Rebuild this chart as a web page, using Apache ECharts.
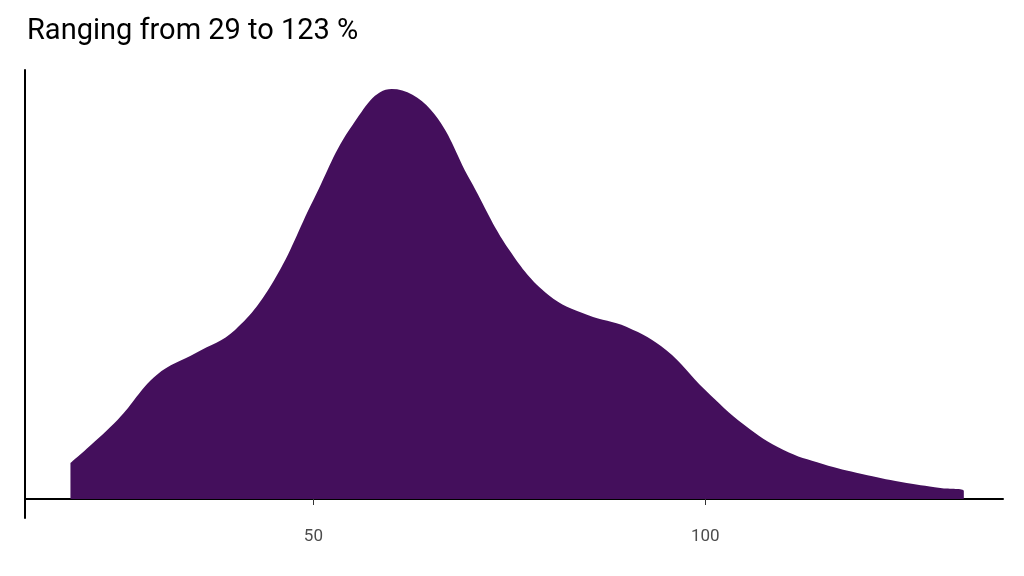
<!DOCTYPE html>
<html><head><meta charset="utf-8">
<script src="https://cdn.jsdelivr.net/npm/echarts@6/dist/echarts.min.js"></script>
<style>html,body{margin:0;background:#fff}#c{width:1024px;height:576px}</style>
</head><body><div id="c"></div>
<script>
// density curve, x in %, y in relative density units
var xs = [19, 25, 30, 35, 40, 45, 50, 55, 60, 65, 70, 75, 80, 85, 90, 95, 100, 105, 110, 115, 120, 125, 130, 133]
var dens = [36, 79, 124, 146, 169, 219, 299, 374, 410, 389, 319, 249, 204, 184, 172, 149, 109, 74, 49, 35, 25, 17, 11, 8]
var tickLabels = [50, 100]
var title = 'Ranging from 29 to 123 %'

var pts = xs.map(function (x, i) { return [x, dens[i]] })
pts.push([133, 0])

var chart = echarts.init(document.getElementById('c'))
chart.setOption({
  animation: false,
  title: {
    text: title, left: 22, top: 12,
    textStyle: { fontFamily: 'Roboto', fontWeight: 'normal', fontSize: 29, color: '#000' }
  },
  grid: { left: 25, right: 21, top: 70, bottom: 58 },
  xAxis: {
    type: 'value', min: 13.2, max: 138,
    axisLine: { lineStyle: { color: '#000', width: 2 } },
    axisTick: { show: true, customValues: tickLabels, length: 6, lineStyle: { color: '#333' } },
    axisLabel: { customValues: tickLabels, color: '#4d4d4d', fontSize: 17, fontFamily: 'Roboto', margin: 10 },
    splitLine: { show: false }
  },
  yAxis: {
    type: 'value', min: -19, max: 429,
    axisLine: { show: true, lineStyle: { color: '#000', width: 2 } },
    axisTick: { show: false }, axisLabel: { show: false }, splitLine: { show: false }
  },
  series: [{
    type: 'line', data: pts, smooth: 0.4, symbol: 'none',
    lineStyle: { width: 0 },
    areaStyle: { color: '#440f5c', opacity: 1, origin: 0 }
  }]
})
</script></body></html>
